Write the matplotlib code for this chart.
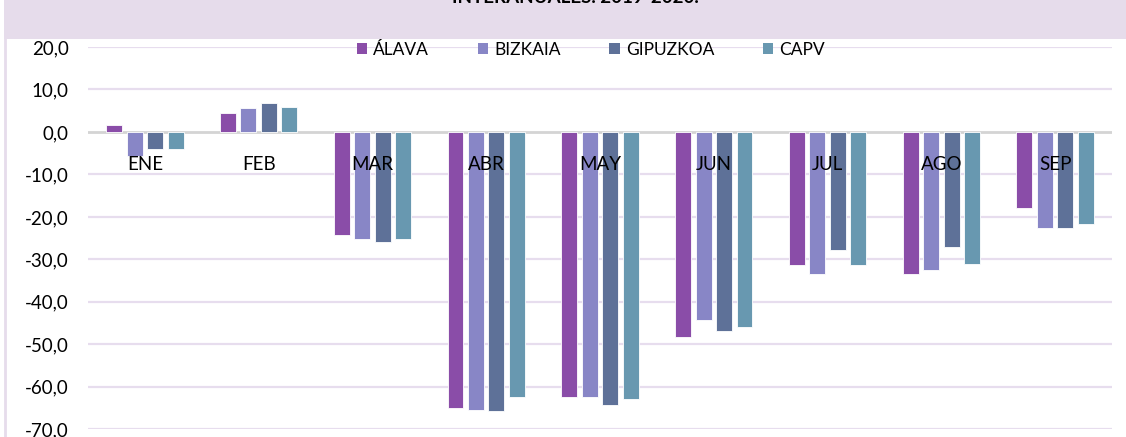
import matplotlib
matplotlib.use("Agg")
import matplotlib.pyplot as plt
from matplotlib.patches import Patch, Rectangle
from matplotlib.lines import Line2D
import numpy as np

plt.rcParams['font.family'] = ['Lato', 'DejaVu Sans']

categories = ["ENE", "FEB", "MAR", "ABR", "MAY", "JUN", "JUL", "AGO", "SEP"]
series_names = ["ÁLAVA", "BIZKAIA", "GIPUZKOA", "CAPV"]
alava    = [1.6, 4.4, -24.2, -65.0, -62.3, -48.2, -31.4, -33.5, -17.8]
bizkaia  = [-5.6, 5.6, -25.1, -65.4, -62.4, -44.3, -33.5, -32.6, -22.7]
gipuzkoa = [-3.9, 6.9, -26.0, -65.8, -64.2, -46.9, -27.9, -27.0, -22.7]
capv     = [-4.0, 5.8, -25.3, -62.3, -62.9, -45.9, -31.3, -31.0, -21.7]
yticks = [20, 10, 0, -10, -20, -30, -40, -50, -60, -70]
title = "INTERANUALES. 2019-2020."

colors = ["#8A4DA8", "#8886C6", "#5E7198", "#6898B0"]
grid_color = "#E7DDEE"

fig = plt.figure(figsize=(11.26, 4.37), dpi=100)
fig.patch.set_facecolor("white")

# header band and left border
fig.add_artist(Rectangle((4/1126, 1 - 39/437), 1, 39/437, transform=fig.transFigure,
                         facecolor="#E6DCEB", edgecolor="none", zorder=0))
fig.add_artist(Line2D([5/1126, 5/1126], [0, 1 - 39/437], transform=fig.transFigure,
                      color="#E6DCEB", lw=2, zorder=0))
fig.text(575/1126, 0.986, title, ha="center", va="bottom", fontsize=13.5,
         fontweight="bold", color="#000000")

ax = fig.add_axes([88/1126, (437-429.3)/437, 1024/1126, (429.3-47)/437])
ax.set_xlim(-0.5, len(categories) - 0.5)
ax.set_ylim(-70, 20)

x = np.arange(len(categories))
data = [alava, bizkaia, gipuzkoa, capv]
offsets = [-0.27, -0.09, 0.09, 0.27]
width = 0.14
for vals, off, col, name in zip(data, offsets, colors, series_names):
    ax.bar(x + off, vals, width=width, color=col, edgecolor="white",
           linewidth=0.6, zorder=3, label=name)

ax.set_yticks(yticks)
ax.set_yticklabels([f"{v:.1f}".replace(".", ",") for v in yticks])
ax.tick_params(axis="y", length=0, pad=14, labelsize=13.5, labelcolor="#000000")
ax.set_xticks([])
for yv in yticks:
    if yv == 0:
        continue
    ax.axhline(yv, color=grid_color, lw=1.6, zorder=1)
ax.axhline(0, color="#D4D4D4", lw=2, zorder=2)

for xi, cat in zip(x, categories):
    ax.text(xi, -7.6, cat, ha="center", va="center", fontsize=13.5,
            color="#000000", zorder=5)

for s in ax.spines.values():
    s.set_visible(False)

handles = [Patch(facecolor=c, edgecolor="none") for c in colors]
fig.legend(handles, series_names, loc="center", bbox_to_anchor=(591/1126, 1 - 50/437),
           ncol=4, frameon=False, fontsize=12.5, handlelength=0.6, handleheight=0.6,
           handletextpad=0.35, columnspacing=2.8)

fig.savefig("out.png", dpi=100, facecolor="white")
